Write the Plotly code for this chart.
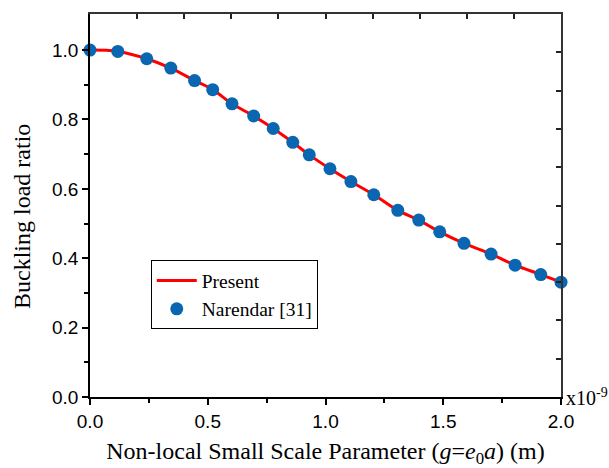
import plotly.graph_objects as go

# Data (x in units of 1e-9 m)
g_vals = [0.0, 0.118, 0.241, 0.343, 0.444, 0.521, 0.603, 0.695, 0.778, 0.861, 0.931,
          1.019, 1.108, 1.205, 1.307, 1.396, 1.485, 1.588, 1.703, 1.805, 1.914, 2.0]
ratio_vals = [1.0, 0.996, 0.975, 0.948, 0.912, 0.886, 0.845, 0.810, 0.774, 0.734, 0.698,
              0.658, 0.621, 0.583, 0.538, 0.510, 0.476, 0.443, 0.412, 0.380, 0.353, 0.331]

present_name = "Present"
narendar_name = "Narendar [31]"
x_title = "Non-local Small Scale Parameter (<i>g</i>=<i>e</i><sub>0</sub><i>a</i>) (m)"
y_title = "Buckling load ratio"

x_ticks = [0.0, 0.5, 1.0, 1.5, 2.0]
y_ticks = [0.0, 0.2, 0.4, 0.6, 0.8, 1.0]
frame_ticks = [0.1, 0.2, 0.3, 0.4, 0.5, 0.6, 0.7, 0.8, 0.9]

RED = "#FF0000"
BLUE = "#0A66B0"
SERIF = "Liberation Serif"
SANS = "Liberation Sans"

fig = go.Figure()
fig.add_trace(go.Scatter(x=g_vals, y=ratio_vals, mode="lines", name=present_name,
                         line=dict(color=RED, width=3, shape="spline"),
                         cliponaxis=False))
fig.add_trace(go.Scatter(x=g_vals, y=ratio_vals, mode="markers", name=narendar_name,
                         marker=dict(color=BLUE, size=13, line=dict(width=0)),
                         cliponaxis=False))
# helper trace for the framing axes (top/right)
fig.add_trace(go.Scatter(x=[], y=[], xaxis="x2", yaxis="y2", showlegend=False,
                         hoverinfo="skip"))

fig.update_layout(
    width=609, height=468,
    margin=dict(l=90, r=47.5, t=14, b=71),
    paper_bgcolor="white", plot_bgcolor="white",
    font=dict(family=SERIF),
    showlegend=True,
    legend=dict(x=0.129, y=0.357, xanchor="left", yanchor="top",
                bgcolor="white", bordercolor="black", borderwidth=1,
                font=dict(family=SERIF, size=19.5, color="black"),
                tracegroupgap=0, itemwidth=40),
    xaxis=dict(range=[0, 2.0], tickvals=x_ticks, ticktext=[f"{v:.1f}" for v in x_ticks],
               ticks="outside", ticklen=6, tickwidth=1.5, tickcolor="black",
               minor=dict(tickvals=[0.25, 0.75, 1.25, 1.75], ticks="outside", ticklen=4,
                          tickwidth=1.5, tickcolor="black"),
               showline=True, linecolor="black", linewidth=1.5,
               showgrid=False, zeroline=False, automargin=False,
               tickfont=dict(family=SANS, size=19, color="black"),
               title=dict(text=x_title,
                          font=dict(family=SERIF, size=24, color="black"), standoff=12)),
    yaxis=dict(range=[0, 1.104], tickvals=y_ticks, ticktext=[f"{v:.1f}" for v in y_ticks],
               ticks="outside", ticklen=6, tickwidth=1.5, tickcolor="black",
               minor=dict(tickvals=[0.1, 0.3, 0.5, 0.7, 0.9], ticks="outside", ticklen=4,
                          tickwidth=1.5, tickcolor="black"),
               showline=True, linecolor="black", linewidth=1.5,
               showgrid=False, zeroline=False, automargin=False,
               tickfont=dict(family=SANS, size=19, color="black")),
    xaxis2=dict(overlaying="x", side="top", anchor="y", range=[0, 1],
                tickvals=frame_ticks, ticks="inside", ticklen=5, tickwidth=1.5,
                tickcolor="#222222", showticklabels=False, automargin=False,
                showline=True, linecolor="#333333", linewidth=2,
                showgrid=False, zeroline=False),
    yaxis2=dict(overlaying="y", side="right", anchor="x", range=[0, 1],
                tickvals=frame_ticks, ticks="inside", ticklen=5, tickwidth=1.5,
                tickcolor="#222222", showticklabels=False, automargin=False,
                showline=True, linecolor="#333333", linewidth=2,
                showgrid=False, zeroline=False),
    annotations=[
        dict(text="x10<sup>-9</sup>", xref="paper", yref="paper",
             x=1.0, y=0.0, xanchor="left", yanchor="middle", xshift=3,
             showarrow=False, font=dict(family=SERIF, size=20, color="black")),
        dict(text=y_title, xref="paper", yref="paper", x=0.0, y=0.47,
             xanchor="center", yanchor="middle", xshift=-68, textangle=-90,
             showarrow=False, font=dict(family=SERIF, size=24, color="black")),
    ],
)

fig.write_html("out.html")
